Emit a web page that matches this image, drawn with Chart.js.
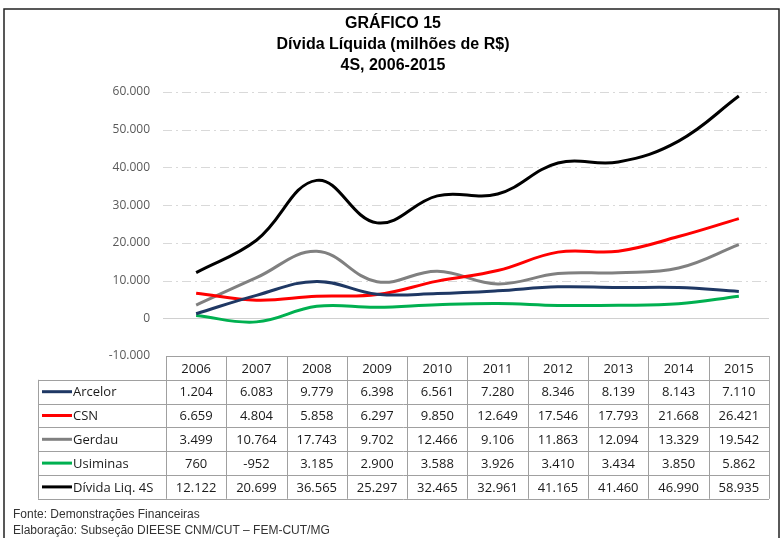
<!DOCTYPE html>
<html>
<head>
<meta charset="utf-8">
<script src="https://cdn.jsdelivr.net/npm/chart.js@4"></script>
<style>
  body { margin: 0; background: #fff; }
  #wrap { width: 781px; height: 538px; }
</style>
</head>
<body>
<div id="wrap"><canvas id="grafico" width="781" height="538"></canvas></div>
<script>
const anos = ["2006", "2007", "2008", "2009", "2010", "2011", "2012", "2013", "2014", "2015"];
const arcelor = [1204, 6083, 9779, 6398, 6561, 7280, 8346, 8139, 8143, 7110];
const csn = [6659, 4804, 5858, 6297, 9850, 12649, 17546, 17793, 21668, 26421];
const gerdau = [3499, 10764, 17743, 9702, 12466, 9106, 11863, 12094, 13329, 19542];
const usiminas = [760, -952, 3185, 2900, 3588, 3926, 3410, 3434, 3850, 5862];
const divida = [12122, 20699, 36565, 25297, 32465, 32961, 41165, 41460, 46990, 58935];

const nomes = ["Arcelor", "CSN", "Gerdau", "Usiminas", "Dívida Liq. 4S"];
const cores = ["#1f3864", "#ff0000", "#808080", "#00b050", "#000000"];
const series = [arcelor, csn, gerdau, usiminas, divida];

const titulo = ["GRÁFICO 15", "Dívida Líquida (milhões de R$)", "4S, 2006-2015"];
const rodape = ["Fonte: Demonstrações Financeiras", "Elaboração: Subseção DIEESE CNM/CUT – FEM-CUT/MG"];

// formato brasileiro: 12.122
function fmt(v) {
  return v.toLocaleString("de-DE");
}

const fonteTabela = '13px "Open Sans", "Noto Sans", sans-serif';

// grade tracejada + linha do zero
const gradePlugin = {
  id: "grade",
  beforeDatasetsDraw(chart) {
    const ctx = chart.ctx;
    const y = chart.scales.y;
    const { left, right } = chart.chartArea;
    ctx.save();
    y.ticks.forEach(t => {
      if (t.value === -10000) return;
      const py = Math.round(y.getPixelForValue(t.value)) + 0.5;
      ctx.beginPath();
      if (t.value === 0) {
        ctx.setLineDash([]);
        ctx.strokeStyle = "#d0d0d0";
      } else {
        ctx.setLineDash([9, 4, 2, 4]);
        ctx.strokeStyle = "#d9d9d9";
      }
      ctx.lineWidth = 1;
      ctx.moveTo(left - 3, py);
      ctx.lineTo(right, py);
      ctx.stroke();
    });
    ctx.restore();
  }
};

// tabela de dados, titulo, rodape e moldura
const tabelaPlugin = {
  id: "tabela",
  afterDraw(chart) {
    const ctx = chart.ctx;
    const x = chart.scales.x;
    const { left, right, bottom } = chart.chartArea;
    const colW = x.getPixelForValue(1) - x.getPixelForValue(0);
    const rowH = 23.8;
    const top = bottom;
    const legLeft = 38;
    ctx.save();

    // moldura
    ctx.strokeStyle = "#222";
    ctx.lineWidth = 1.5;
    ctx.strokeRect(4, 9, 775, 540);

    // titulo
    ctx.fillStyle = "#000";
    ctx.textAlign = "center";
    ctx.textBaseline = "middle";
    ctx.font = 'bold 16px "Liberation Sans Narrow", "Liberation Sans", Arial, sans-serif';
    titulo.forEach((t, i) => ctx.fillText(t, 393, 24 + i * 21));

    // linhas da tabela
    ctx.strokeStyle = "#a0a0a0";
    ctx.lineWidth = 1;
    const nRows = series.length + 1;
    // horizontais
    for (let r = 0; r <= nRows; r++) {
      const py = Math.round(top + r * rowH) + 0.5;
      ctx.beginPath();
      ctx.moveTo(r === 0 ? left : legLeft, py);
      ctx.lineTo(right, py);
      ctx.stroke();
    }
    // verticais
    for (let c = 0; c <= anos.length; c++) {
      const px = Math.round(left + c * colW) + 0.5;
      ctx.beginPath();
      ctx.moveTo(px, top);
      ctx.lineTo(px, top + nRows * rowH);
      ctx.stroke();
    }
    ctx.beginPath();
    ctx.moveTo(legLeft + 0.5, top + rowH);
    ctx.lineTo(legLeft + 0.5, top + nRows * rowH);
    ctx.stroke();

    // cabecalho
    ctx.font = fonteTabela;
    ctx.fillStyle = "#1a1a1a";
    ctx.textAlign = "center";
    anos.forEach((a, i) => ctx.fillText(a, x.getPixelForValue(i), top + rowH / 2 + 1));

    // linhas de series
    series.forEach((s, r) => {
      const cy = top + (r + 1.5) * rowH + 1;
      ctx.strokeStyle = cores[r];
      ctx.lineWidth = 3;
      ctx.beginPath();
      ctx.moveTo(42, cy - 1);
      ctx.lineTo(72, cy - 1);
      ctx.stroke();
      ctx.fillStyle = "#1a1a1a";
      ctx.textAlign = "left";
      ctx.fillText(nomes[r], 73, cy);
      ctx.textAlign = "center";
      s.forEach((v, i) => ctx.fillText(fmt(v), x.getPixelForValue(i), cy));
    });

    // rodape
    ctx.font = '12px "Liberation Sans", Arial, sans-serif';
    ctx.fillStyle = "#333";
    ctx.textAlign = "left";
    rodape.forEach((t, i) => ctx.fillText(t, 13, 515 + i * 16));
    ctx.restore();
  }
};

new Chart("grafico", {
  type: "line",
  data: {
    labels: anos,
    datasets: series.map((s, i) => ({
      label: nomes[i],
      data: s,
      borderColor: cores[i],
      backgroundColor: cores[i],
      borderWidth: 3,
      pointRadius: 0,
      tension: 0.4,
      fill: false
    }))
  },
  options: {
    responsive: false,
    animation: false,
    layout: {
      padding: { top: 92, right: 12, bottom: 182, left: 0 }
    },
    scales: {
      x: {
        display: false,
        offset: true
      },
      y: {
        min: -10000,
        max: 60000,
        afterFit(scale) { scale.width = 166; },
        border: { display: false },
        grid: { display: true, color: "rgba(0,0,0,0)", drawTicks: false },
        ticks: {
          stepSize: 10000,
          padding: 16,
          color: "#595959",
          font: { family: '"Open Sans", "Noto Sans", sans-serif', size: 12 },
          callback: v => fmt(v)
        }
      }
    },
    plugins: {
      legend: { display: false },
      tooltip: { enabled: false }
    }
  },
  plugins: [gradePlugin, tabelaPlugin]
});
</script>
</body>
</html>
